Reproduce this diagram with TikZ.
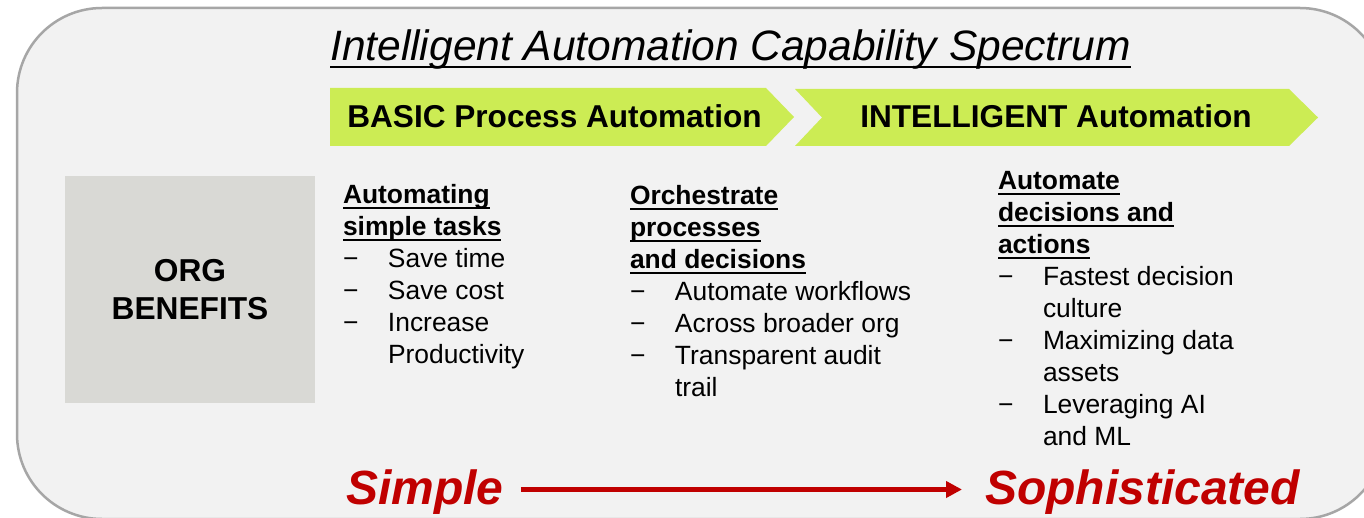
\documentclass[tikz,border=0pt]{standalone}
\usepackage{fontspec}
\setmainfont{Liberation Sans}
\usetikzlibrary{arrows.meta}
\definecolor{bgc}{HTML}{F2F2F2}
\definecolor{boxc}{HTML}{D9D9D5}
\definecolor{borderc}{HTML}{A6A6A6}
\definecolor{chevc}{RGB}{204,236,84}
\definecolor{redc}{HTML}{C00000}
\newcommand\myul[1]{\begingroup\setbox0\hbox{#1}\rlap{\rule[-5.5pt]{\wd0}{2.4pt}}\box0\endgroup}
\newcommand\myulT[1]{\begingroup\setbox0\hbox{#1}\rlap{\rule[-7.5pt]{\wd0}{2.7pt}}\box0\endgroup}
\newcommand\bl{\makebox[45pt][l]{−}}
\newcommand\hd[1]{\textbf{\myul{#1}}}
\tikzset{
  txt/.style={inner sep=0pt, outer sep=0pt, font=\fontsize{26.4}{32}\selectfont, text=black},
  chevtxt/.style={inner sep=0pt, font=\bfseries\fontsize{31.6}{38}\selectfont, text=black},
  bigred/.style={inner sep=0pt, font=\bfseries\itshape\fontsize{48}{56}\selectfont, text=redc},
  arr/.style={draw=redc, line width=5pt, -{Triangle[length=16pt,width=16pt]}},
}
\begin{document}
\begin{tikzpicture}[x=1pt,y=-1pt]
\useasboundingbox (0,0) rectangle (1364,518);
\clip (0,0) rectangle (1364,518);
\fill[white] (0,0) rectangle (1364,518);
\draw[draw=borderc, line width=2.5pt, fill=bgc, rounded corners=85pt] (17,8) rectangle (1385,519);
% org benefits box
\fill[boxc] (65,176) rectangle (315,403);
\node[inner sep=0pt, anchor=base, font=\bfseries\fontsize{31.7}{38}\selectfont] (org) at (190,282)
  {\begin{tabular}[t]{@{}c@{}}ORG\\BENEFITS\end{tabular}};
% title
\node[inner sep=0pt, anchor=base west, font=\itshape\fontsize{42.5}{50}\selectfont] (title) at (330,61)
  {\myulT{Intelligent Automation Capability Spectrum}};
% chevrons
\fill[chevc] (330,88) -- (766,88) -- (794,117) -- (766,146) -- (330,146) -- cycle;
\fill[chevc] (795,89) -- (1289,89) -- (1318,117.5) -- (1289,146) -- (795,146) -- (822,117.5) -- cycle;
\node[chevtxt, anchor=base] (basic) at (554.5,128) {BASIC Process Automation};
\node[chevtxt, anchor=base] (intel) at (1056,128) {INTELLIGENT Automation};
% columns
\node[txt, anchor=base west] (c1) at (343,204) {\begin{tabular}[t]{@{}l@{}}
\hd{Automating}\\
\hd{simple tasks}\\
\bl Save time\\
\bl Save cost\\
\bl Increase\\
\hspace{45pt}Productivity
\end{tabular}};
\node[txt, anchor=base west] (c2) at (630,205) {\begin{tabular}[t]{@{}l@{}}
\hd{Orchestrate}\\
\hd{processes}\\
\hd{and decisions}\\
\bl Automate workflows\\
\bl Across broader org\\
\bl Transparent audit\\
\hspace{45pt}trail
\end{tabular}};
\node[txt, anchor=base west] (c3) at (998,190) {\begin{tabular}[t]{@{}l@{}}
\hd{Automate}\\
\hd{decisions and}\\
\hd{actions}\\
\bl Fastest decision\\
\hspace{45pt}culture\\
\bl Maximizing data\\
\hspace{45pt}assets\\
\bl Leveraging AI\\
\hspace{45pt}and ML
\end{tabular}};
% bottom
\node[bigred, anchor=base west] (simple) at (346,504) {Simple};
\node[bigred, anchor=base west] (soph) at (985,504) {Sophisticated};
\draw[arr] ([shift={(17,-14.5)}]simple.base east) -- ([shift={(-23,-14.5)}]soph.base west);
\end{tikzpicture}
\end{document}
